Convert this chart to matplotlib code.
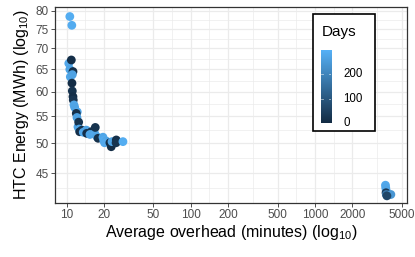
import matplotlib
matplotlib.use("Agg")
import matplotlib.pyplot as plt
import numpy as np
from matplotlib.colors import LinearSegmentedColormap, Normalize
from matplotlib.patches import Rectangle

plt.rcParams['font.family'] = ['Liberation Sans', 'DejaVu Sans']

# data
overhead = [10.6, 11.0,
            10.4, 10.6, 10.7, 10.9, 11.24, 11.1, 11.03,
            11.1, 11.24, 11.3, 11.45, 11.6, 12.17, 11.95, 12.1, 12.33, 12.49,
            12.6, 12.73, 13.28, 13.6, 14.39, 14.5, 15.78, 15.4, 16.8, 17.0,
            17.5, 17.9, 19.6, 19.9, 20.85, 20.2, 22.3, 22.85, 23.2, 25.1, 25.0,
            28.4,
            3700, 3720, 3750, 3740, 3760, 4090, 3800]
energy = [78.4, 76.0,
          66.4, 65.0, 63.3, 67.2, 64.5, 63.8, 61.9,
          60.2, 59.0, 58.3, 57.3, 56.8, 55.9, 55.6, 54.8, 53.0, 53.9,
          52.6, 52.1, 52.4, 52.0, 52.4, 51.8, 52.1, 51.6, 51.8, 52.9,
          51.2, 50.9, 51.1, 50.5, 50.4, 50.1, 50.1, 49.4, 50.3, 50.6, 50.1,
          50.3,
          43.1, 42.7, 42.3, 41.96, 41.7, 41.7, 41.5]
days = [290, 285,
        280, 270, 275, 10, 15, 265, 5,
        20, 10, 25, 275, 270, 280, 15, 265, 270, 20,
        275, 10, 15, 280, 270, 10, 15, 275, 280, 20,
        270, 15, 275, 285, 270, 280, 10, 5, 270, 15, 20,
        290,
        280, 275, 270, 30, 170, 240, 60]

x_breaks = [10, 20, 50, 100, 200, 500, 1000, 2000, 5000]
y_breaks = [45, 50, 55, 60, 65, 70, 75, 80]
day_breaks = [0, 100, 200]


def log_minor(breaks, lo, hi):
    lb = np.log10(breaks)
    ext = np.concatenate([[lb[0] - (lb[1] - lb[0])], lb, [lb[-1] + (lb[-1] - lb[-2])]])
    mids = 10 ** ((ext[:-1] + ext[1:]) / 2)
    return [m for m in mids if lo < m < hi]


cmap = LinearSegmentedColormap.from_list("gg", ["#132B43", "#56B1F7"])
norm = Normalize(0, 300)

fig = plt.figure(figsize=(4.15, 2.57), dpi=100)
ax = fig.add_axes([0.1325, 0.2101, 0.8482, 0.7627])

xlim = (8.05, 5516)
ylim = (40.46, 81.1)
ax.set_xscale('log')
ax.set_yscale('log')
ax.set_xlim(xlim)
ax.set_ylim(ylim)

for v in log_minor(x_breaks, *xlim):
    ax.axvline(v, color='#EBEBEB', lw=0.5, zorder=0)
for v in log_minor(y_breaks, *ylim):
    ax.axhline(v, color='#EBEBEB', lw=0.5, zorder=0)
for v in x_breaks:
    ax.axvline(v, color='#EBEBEB', lw=0.9, zorder=0)
for v in y_breaks:
    ax.axhline(v, color='#EBEBEB', lw=0.9, zorder=0)

ax.scatter(overhead, energy, c=days, cmap=cmap, norm=norm, s=40,
           edgecolors='none', zorder=3)

ax.xaxis.set_major_locator(matplotlib.ticker.FixedLocator(x_breaks))
ax.yaxis.set_major_locator(matplotlib.ticker.FixedLocator(y_breaks))
ax.xaxis.set_minor_locator(matplotlib.ticker.NullLocator())
ax.yaxis.set_minor_locator(matplotlib.ticker.NullLocator())
ax.set_xticklabels([str(b) for b in x_breaks])
ax.set_yticklabels([str(b) for b in y_breaks])
ax.tick_params(length=3, width=0.6, color='#333333', labelcolor='#4D4D4D',
               labelsize=8.5, pad=1.5)
for s in ax.spines.values():
    s.set_color('#333333')
    s.set_linewidth(0.9)

ax.set_xlabel(r"Average overhead (minutes) (log$_{\mathregular{10}}$)", fontsize=11.5, labelpad=1)
ax.set_ylabel(r"HTC Energy (MWh) (log$_{\mathregular{10}}$)", fontsize=11.5, labelpad=3)

# legend box with colour bar
fig.patches.append(Rectangle((0.7535, 0.4903), 0.150, 0.455, transform=fig.transFigure,
                             facecolor='white', edgecolor='black', lw=1.2, zorder=5))
fig.text(0.7755, 0.875, "Days", fontsize=11, va='center', ha='left', zorder=6)
cax = fig.add_axes([0.7735, 0.5214, 0.0241, 0.284], zorder=6)
grad = np.linspace(0, 300, 256).reshape(-1, 1)
cax.imshow(grad, aspect='auto', cmap=cmap, norm=norm, origin='lower',
           extent=[0, 1, 0, 300])
for d in day_breaks:
    cax.plot([0, 0.2], [d, d], color='white', lw=0.6, alpha=0.6)
    cax.plot([0.8, 1], [d, d], color='white', lw=0.6, alpha=0.6)
    cax.text(2.2, d, str(d), fontsize=8.3, va='center', ha='left',
             transform=cax.transData, clip_on=False)
cax.set_xlim(0, 1)
cax.set_ylim(0, 300)
cax.axis('off')

fig.savefig("out.png", dpi=100)
